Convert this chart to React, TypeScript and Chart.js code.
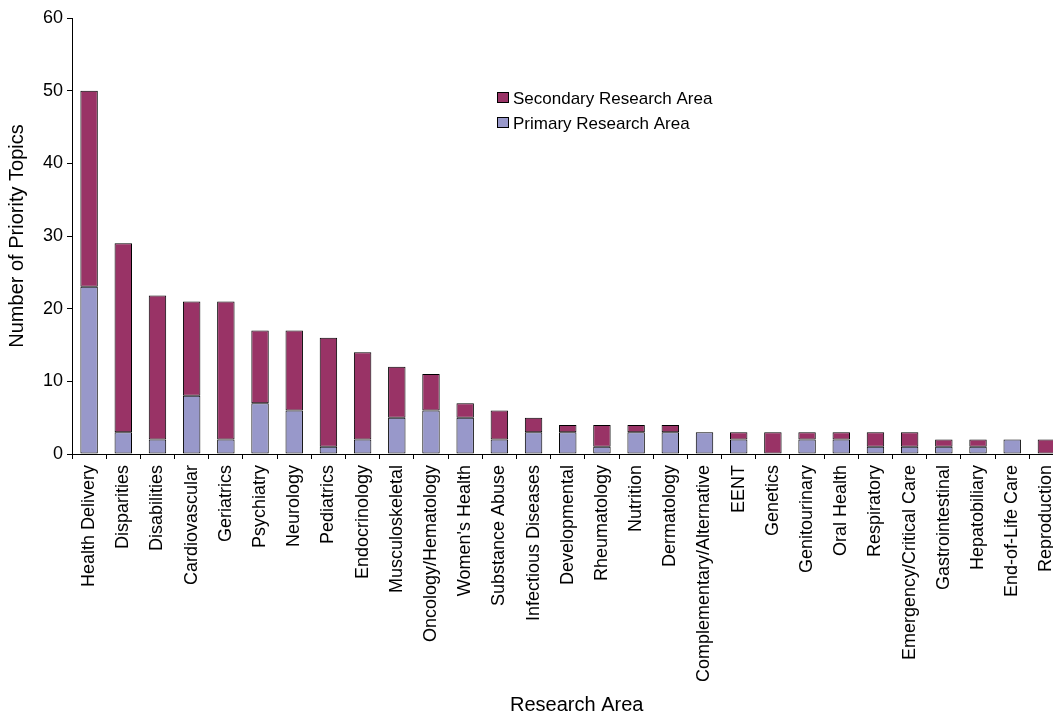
import React, { useEffect, useRef } from "react";
import { Chart, registerables } from "chart.js";

Chart.register(...registerables);

const categories = [
  "Health Delivery",
  "Disparities",
  "Disabilities",
  "Cardiovascular",
  "Geriatrics",
  "Psychiatry",
  "Neurology",
  "Pediatrics",
  "Endocrinology",
  "Musculoskeletal",
  "Oncology/Hematology",
  "Women's Health",
  "Substance Abuse",
  "Infectious Diseases",
  "Developmental",
  "Rheumatology",
  "Nutrition",
  "Dermatology",
  "Complementary/Alternative",
  "EENT",
  "Genetics",
  "Genitourinary",
  "Oral Health",
  "Respiratory",
  "Emergency/Critical Care",
  "Gastrointestinal",
  "Hepatobiliary",
  "End-of-Life Care",
  "Reproduction",
];

const primaryArea = [23, 3, 2, 8, 2, 7, 6, 1, 2, 5, 6, 5, 2, 3, 3, 1, 3, 3, 3, 2, 0, 2, 2, 1, 1, 1, 1, 2, 0];
const secondaryArea = [27, 26, 19.8, 13, 19, 10, 11, 15, 12, 7, 5, 2, 4, 2, 1, 3, 1, 1, 0, 1, 3, 1, 1, 2, 2, 1, 1, 0, 2];

const yTickValues = [0, 10, 20, 30, 40, 50, 60];

const xTitle = "Research Area";
const yTitle = "Number of Priority Topics";

const PRIMARY_COLOR = "#9898CA";
const SECONDARY_COLOR = "#993366";
const FONT = "'Liberation Sans', Arial, sans-serif";

const overlayPlugin = {
  id: "overlay",
  afterDraw(chart: any) {
    const { ctx, chartArea } = chart;
    const w = chartArea.right - chartArea.left;
    const x = Math.round(chartArea.left + w * 0.429);
    const rows = [
      { label: chart.data.datasets[1].label, color: chart.data.datasets[1].backgroundColor, y: 98 },
      { label: chart.data.datasets[0].label, color: chart.data.datasets[0].backgroundColor, y: 123 },
    ];
    ctx.save();
    ctx.font = `17px ${FONT}`;
    ctx.textBaseline = "middle";
    ctx.textAlign = "left";
    rows.forEach((r) => {
      ctx.fillStyle = r.color;
      ctx.fillRect(x, r.y - 6, 12, 11);
      ctx.strokeStyle = "#000";
      ctx.lineWidth = 1;
      ctx.strokeRect(x + 0.5, r.y - 5.5, 11, 10);
      ctx.fillStyle = "#000";
      ctx.fillText(r.label, x + 16, r.y + 1);
    });
    // x-axis title
    ctx.font = `20px ${FONT}`;
    ctx.textAlign = "center";
    ctx.textBaseline = "alphabetic";
    ctx.fillText(xTitle, chartArea.left + w / 2 + 9, 711);
    ctx.restore();
  },
};

export default function App() {
  const ref = useRef<HTMLCanvasElement>(null);

  useEffect(() => {
    if (!ref.current) return;
    const chart = new Chart(ref.current, {
      type: "bar",
      data: {
        labels: categories,
        datasets: [
          {
            label: "Primary Research Area",
            data: primaryArea,
            backgroundColor: PRIMARY_COLOR,
            borderColor: "#000",
            borderWidth: 1,
            borderSkipped: false,
            barPercentage: 0.51,
            categoryPercentage: 1,
            stack: "s",
          },
          {
            label: "Secondary Research Area",
            data: secondaryArea,
            backgroundColor: SECONDARY_COLOR,
            borderColor: "#000",
            borderWidth: 1,
            borderSkipped: false,
            barPercentage: 0.51,
            categoryPercentage: 1,
            stack: "s",
          },
        ],
      },
      options: {
        responsive: false,
        maintainAspectRatio: false,
        animation: false,
        layout: { padding: { top: 18, right: 0, left: 0, bottom: 0 } },
        plugins: {
          legend: { display: false },
          tooltip: { enabled: false },
        },
        scales: {
          x: {
            stacked: true,
            grid: {
              display: true,
              drawOnChartArea: false,
              offset: true,
              tickLength: 5,
              color: "#000",
            },
            border: { color: "#000", width: 1 },
            ticks: {
              minRotation: 90,
              maxRotation: 90,
              autoSkip: false,
              color: "#000",
              padding: 6,
              font: { family: FONT, size: 18 },
            },
            title: { display: false, text: xTitle },
            afterFit: (scale: any) => {
              scale.height = 261;
            },
          },
          y: {
            stacked: true,
            min: 0,
            max: 60,
            afterBuildTicks: (scale: any) => {
              scale.ticks = yTickValues.map((v) => ({ value: v }));
            },
            grid: {
              display: true,
              drawOnChartArea: false,
              tickLength: 5,
              color: "#000",
            },
            border: { color: "#000", width: 1 },
            ticks: {
              color: "#000",
              padding: 4,
              font: { family: FONT, size: 18 },
            },
            title: {
              display: true,
              text: yTitle,
              color: "#000",
              font: { family: FONT, size: 20 },
              padding: { top: 5, bottom: 0 },
            },
            afterFit: (scale: any) => {
              scale.width = 72;
            },
          },
        },
      },
      plugins: [overlayPlugin],
    });
    return () => chart.destroy();
  }, []);

  return (
    <div
      style={{
        position: "fixed",
        left: 0,
        top: 0,
        width: 1053,
        height: 715,
        overflow: "hidden",
        background: "#fff",
      }}
    >
      <canvas ref={ref} width={1074} height={715} style={{ display: "block", width: 1074, height: 715 }} />
    </div>
  );
}
